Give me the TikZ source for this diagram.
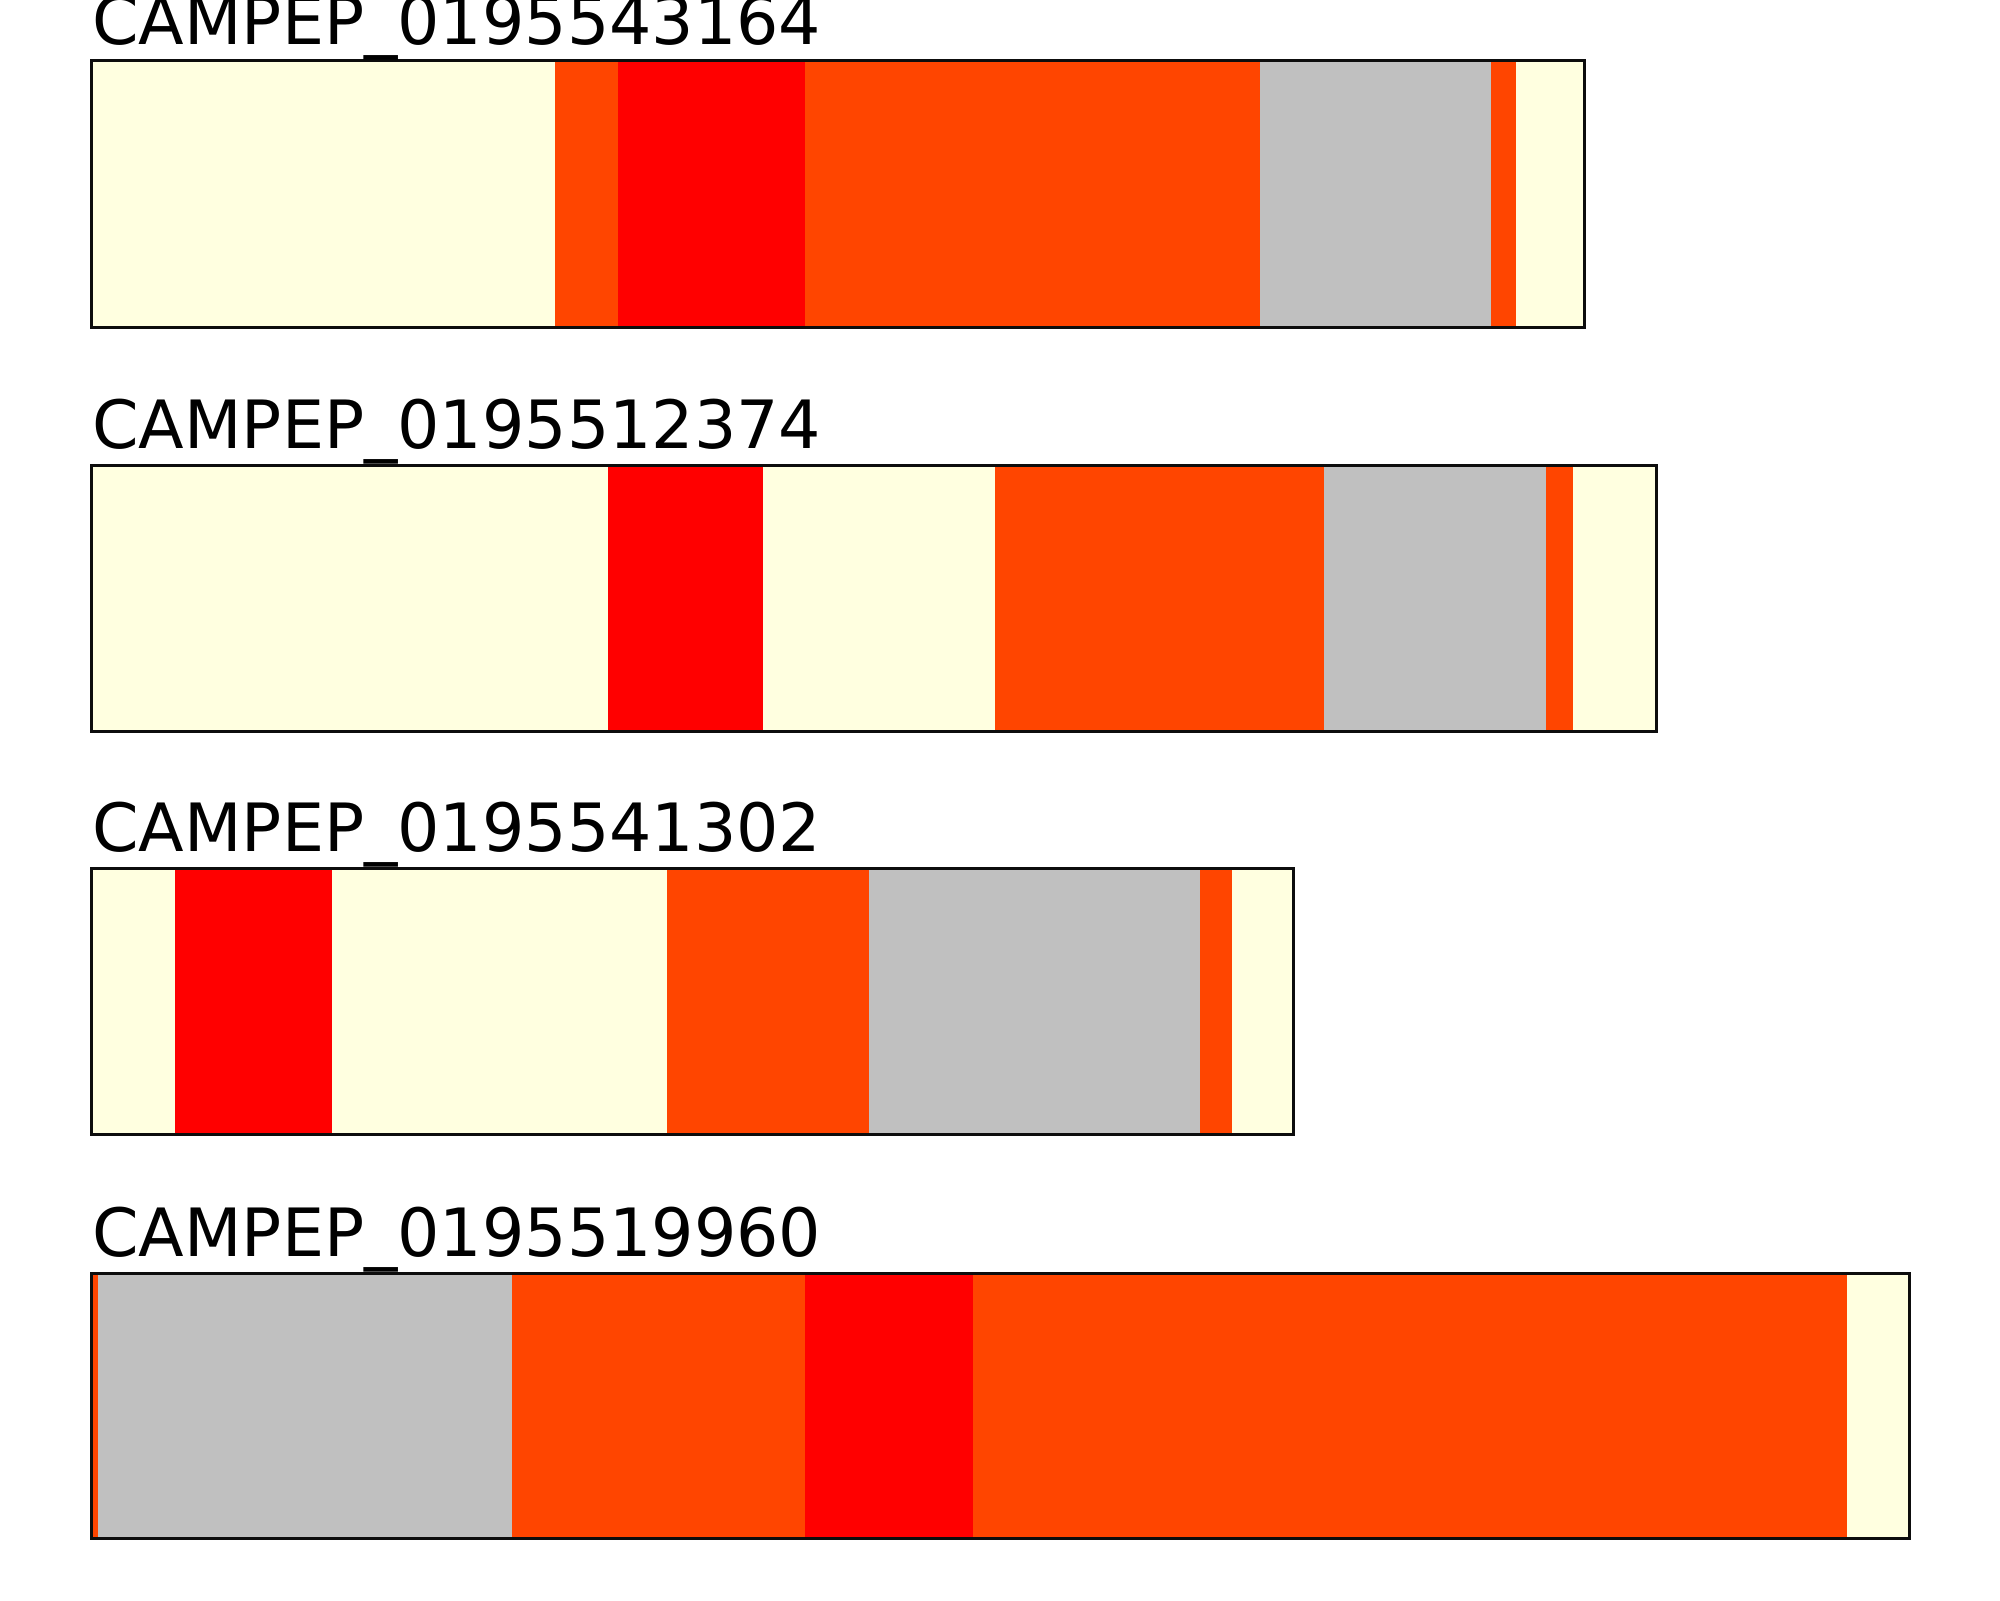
\documentclass[tikz,border=0pt]{standalone}
\usepackage{fontspec}
\setmainfont{DejaVu Sans}
\definecolor{creamc}{HTML}{FFFFE0}
\definecolor{orangec}{HTML}{FF4500}
\definecolor{redc}{HTML}{FF0000}
\definecolor{grayc}{HTML}{C0C0C0}
\tikzset{
  lbl/.style={anchor=base west, inner sep=0pt, font=\fontsize{33.3}{40}\selectfont},
  frame/.style={draw=black!95, line width=1.5pt, fill=none}
}
\newcommand{\barseg}[5]{\fill[#5] (#3,#1) rectangle (#4,#2);}
\begin{document}
\begin{tikzpicture}[x=0.5pt,y=-0.5pt]
\useasboundingbox (0,0) rectangle (2000,1600);
% Bar 1
\barseg{61}{327}{91.8}{554.8}{creamc}
\barseg{61}{327}{554.8}{618.4}{orangec}
\barseg{61}{327}{618.4}{805}{redc}
\barseg{61}{327}{805}{1260.2}{orangec}
\barseg{61}{327}{1260.2}{1491.2}{grayc}
\barseg{61}{327}{1491.2}{1516.4}{orangec}
\barseg{61}{327}{1516.4}{1584}{creamc}
\draw[frame] (91.8,61) rectangle (1584,327);
\node[lbl] (l1) at (92,44.5) {CAMPEP\_0195543164};
% Bar 2
\barseg{465.6}{731}{91.8}{608.3}{creamc}
\barseg{465.6}{731}{608.3}{763}{redc}
\barseg{465.6}{731}{763}{994.9}{creamc}
\barseg{465.6}{731}{994.9}{1323.9}{orangec}
\barseg{465.6}{731}{1323.9}{1545.9}{grayc}
\barseg{465.6}{731}{1545.9}{1573}{orangec}
\barseg{465.6}{731}{1573}{1656}{creamc}
\draw[frame] (91.8,465.6) rectangle (1656,731);
\node[lbl] (l2) at (92,448.5) {CAMPEP\_0195512374};
% Bar 3
\barseg{868.6}{1134}{91.8}{174.7}{creamc}
\barseg{868.6}{1134}{174.7}{331.6}{redc}
\barseg{868.6}{1134}{331.6}{667.1}{creamc}
\barseg{868.6}{1134}{667.1}{868.6}{orangec}
\barseg{868.6}{1134}{868.6}{1200.2}{grayc}
\barseg{868.6}{1134}{1200.2}{1232.1}{orangec}
\barseg{868.6}{1134}{1232.1}{1293.4}{creamc}
\draw[frame] (91.8,868.6) rectangle (1293.4,1134);
\node[lbl] (l3) at (92,851.5) {CAMPEP\_0195541302};
% Bar 4
\barseg{1273}{1538.5}{91.8}{97.5}{orangec}
\barseg{1273}{1538.5}{97.5}{511.5}{grayc}
\barseg{1273}{1538.5}{511.5}{804.8}{orangec}
\barseg{1273}{1538.5}{804.8}{973.2}{redc}
\barseg{1273}{1538.5}{973.2}{1846.8}{orangec}
\barseg{1273}{1538.5}{1846.8}{1909.5}{creamc}
\draw[frame] (91.8,1273) rectangle (1909.5,1538.5);
\node[lbl] (l4) at (92,1256) {CAMPEP\_0195519960};
\end{tikzpicture}
\end{document}
